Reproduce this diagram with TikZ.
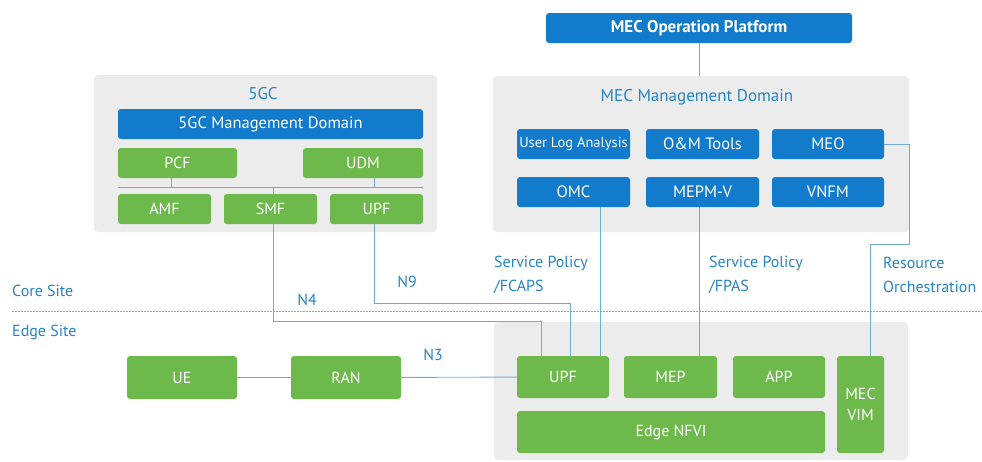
\documentclass[tikz,border=0pt]{standalone}
\usepackage{fontspec}
\setmainfont{PT Sans}
\usetikzlibrary{calc}
\definecolor{mecblue}{RGB}{18,123,204}
\definecolor{mecgreen}{RGB}{110,185,76}
\definecolor{mecgray}{RGB}{236,236,236}
\definecolor{linkblue}{RGB}{110,172,214}
\definecolor{txtblue}{RGB}{38,132,196}
\tikzset{
  bbox/.style={fill=mecblue, rounded corners=3pt, text=white, inner sep=0pt, font=\fontsize{16.5}{19}\selectfont},
  gbox/.style={fill=mecgreen, rounded corners=3pt, text=white, inner sep=0pt},
  area/.style={fill=mecgray, rounded corners=4pt, inner sep=0pt},
  link/.style={draw=linkblue, line width=0.9pt},
  lbl/.style={text=txtblue, inner sep=0pt, align=left, font=\fontsize{16}{24}\selectfont}
}

\begin{document}
\begin{tikzpicture}[x=1pt, y=-1pt, font=\fontsize{16}{19}\selectfont]
\useasboundingbox (0,0) rectangle (982,461);
% grey areas
\node[area, minimum width=343pt, minimum height=157pt] (core) at (265.5,153.5) {};
\node[area, minimum width=416pt, minimum height=156pt] (mecdom) at (701,154) {};
\node[area, minimum width=414pt, minimum height=138pt] (edge) at (701,391) {};
\node[text=txtblue, font=\fontsize{17}{20}\selectfont] (t5gc) at (263,94) {5GC};
\node[text=txtblue, font=\fontsize{17}{20}\selectfont] (tmec) at (697,97) {MEC Management Domain};

% 5GC
\node[bbox, minimum width=305pt, minimum height=30pt] (gcmd) at (270.5,124) {5GC Management Domain};
\node[gbox, minimum width=119pt, minimum height=30pt] (pcf) at (177.5,163) {PCF};
\node[gbox, minimum width=120pt, minimum height=30pt] (udm) at (363,163) {UDM};
\node[gbox, minimum width=93pt, minimum height=30pt] (amf) at (164.5,209) {AMF};
\node[gbox, minimum width=93pt, minimum height=30pt] (smf) at (270.5,209) {SMF};
\node[gbox, minimum width=93pt, minimum height=30pt] (upfc) at (376.5,209) {UPF};
\coordinate (busl) at (118,187);
\coordinate (busr) at (423,187);
\draw[link] (busl) -- (busr);
\draw[link] ([xshift=-6pt]pcf.south) -- ([xshift=-6pt]pcf.south |- busl);
\draw[link] ([xshift=11pt]udm.south) -- ([xshift=11pt]udm.south |- busl);
\draw[link] ([xshift=2.5pt]smf.north) -- ([xshift=2.5pt]smf.north |- busl);

% MEC management
\node[bbox, minimum width=306pt, minimum height=30pt, font=\fontsize{17}{20}\selectfont\bfseries] (mop) at (699,28) {MEC Operation Platform};
\node[bbox, minimum width=113pt, minimum height=30pt, font=\fontsize{14.5}{17}\selectfont] (ula) at (573.5,144) {User Log Analysis};
\node[bbox, minimum width=113pt, minimum height=30pt] (omt) at (702.5,144) {O\&M Tools};
\node[bbox, minimum width=112pt, minimum height=30pt] (meo) at (828,144) {MEO};
\node[bbox, minimum width=113pt, minimum height=30pt] (omc) at (573.5,192) {OMC};
\node[bbox, minimum width=113pt, minimum height=30pt] (mepm) at (702.5,192) {MEPM-V};
\node[bbox, minimum width=112pt, minimum height=30pt] (vnfm) at (828,192) {VNFM};
\draw[link] (mop.south) -- (mop.south |- mecdom.north);

% edge site
\node[gbox, minimum width=110pt, minimum height=43pt] (ue) at (182,377.5) {UE};
\node[gbox, minimum width=110pt, minimum height=43pt] (ran) at (346,377.5) {RAN};
\node[gbox, minimum width=92pt, minimum height=42pt] (upfe) at (563,377) {UPF};
\node[gbox, minimum width=93pt, minimum height=42pt] (mep) at (670.5,377) {MEP};
\node[gbox, minimum width=92pt, minimum height=42pt] (app) at (779,377) {APP};
\node[gbox, minimum width=308pt, minimum height=42pt] (nfvi) at (671,432) {Edge NFVI};
\node[gbox, minimum width=47pt, minimum height=97pt, align=center, font=\fontsize{16}{21}\selectfont] (vim) at (860.5,404.5) {MEC\\VIM};

% site border
\coordinate (sitel) at (12,311);
\coordinate (siter) at (982,311);
\draw[linkblue, dash pattern=on 1.5pt off 1.5pt, line width=0.8pt] (sitel) -- (siter);
\node[lbl, anchor=west] (csite) at (12,291) {Core Site};
\node[lbl, anchor=west] (esite) at (12,332) {Edge Site};

% interfaces
\coordinate (n4) at (541,321);
\coordinate (n9) at (570,303);
\coordinate (ro) at (909,244);
\draw[link] (ue) -- (ran);
\draw[link] (ran) -- (upfe);
\draw[link] ([xshift=2.5pt]smf.south) |- (n4) -- (n4 |- upfe.north);
\draw[link] ([xshift=-2.5pt]upfc.south) |- (n9) -- (n9 |- upfe.north);
\draw[link] ([xshift=26.5pt]omc.south) -- ([xshift=26.5pt]omc.south |- upfe.north);
\draw[link] ([xshift=-3.5pt]mepm.south) -- ([xshift=-3.5pt]mepm.south |- mep.north);
\draw[link] (meo.east) -| (ro) -| ([xshift=9.5pt]vim.north);
\node[lbl] (ln4) at (307,300) {N4};
\node[lbl] (ln9) at (407,282) {N9};
\node[lbl] (ln3) at (433,355) {N3};
\node[lbl, anchor=west] (sp1) at (494,275) {Service Policy\\/FCAPS};
\node[lbl, anchor=west] (sp2) at (709,275) {Service Policy\\/FPAS};
\node[lbl, anchor=west] (res) at (883,275) {Resource\\Orchestration};
\end{tikzpicture}
\end{document}
